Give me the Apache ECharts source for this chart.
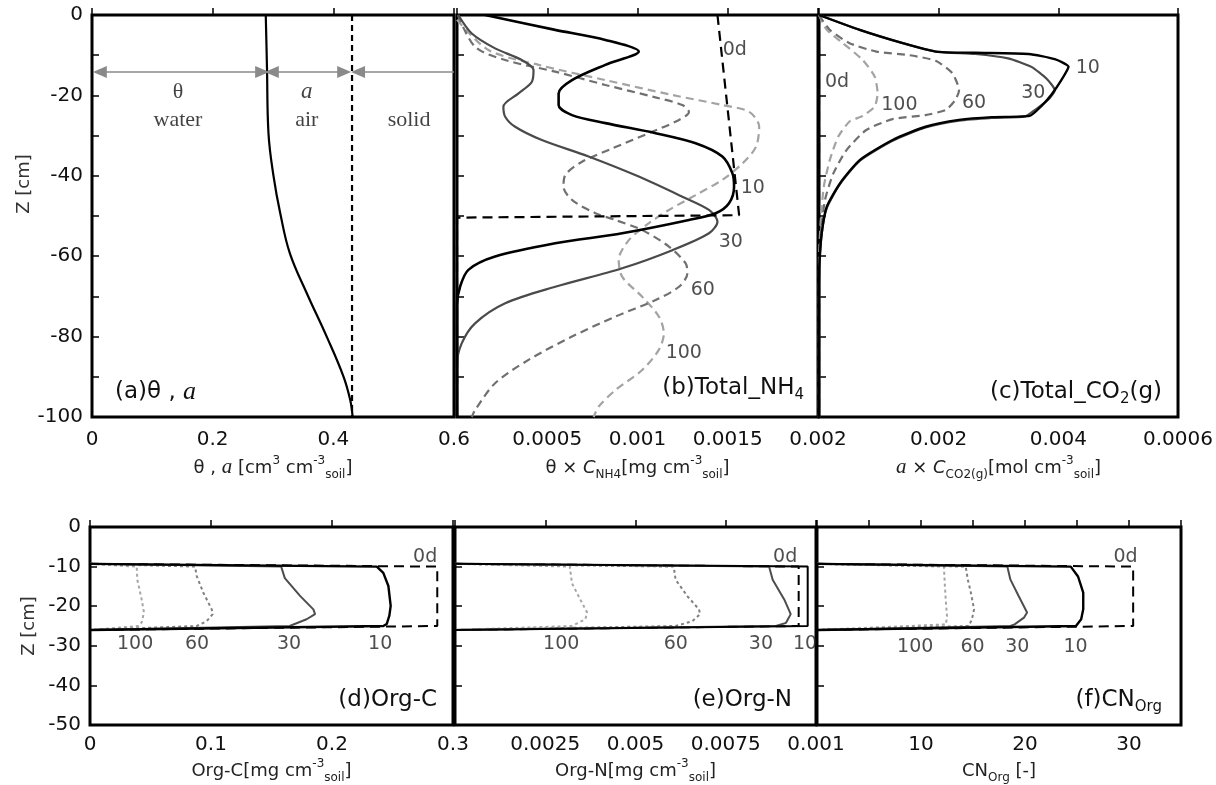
<!DOCTYPE html>
<html>
<head>
<meta charset="utf-8">
<script src="https://cdn.jsdelivr.net/npm/echarts@6/dist/echarts.min.js"></script>
<style>html,body{margin:0;padding:0;background:#fff}#c{width:1216px;height:785px}</style>
</head>
<body>
<div id="c"></div>
<script>
// ---------------- DATA ----------------
// (a) water content theta and porosity (depth z in cm)
const aDepth = [0, -12.9, -29.4, -40.2, -49.3, -59.3, -69.2, -80, -90, -95.8, -100];
const aTheta = [0.288, 0.290, 0.2925, 0.301, 0.312, 0.328, 0.356, 0.389, 0.417, 0.428, 0.432];
const aPorosityDepth = [0, -100];
const aPorosity = [0.431, 0.431];

// (b) Total NH4 [x, z]
const bDay0 = [[0.001443, 0], [0.001563, -49.8], [0, -50.4], [0, -100]];
const bDay10 = [[0.000156,0],[0.000544,-3.7],[0.000822,-6.2],[0.001007,-9.1],[0.000822,-12.4],[0.000637,-16.2],[0.000563,-19.5],[0.000563,-22.4],[0.000637,-24.9],[0.000822,-26.9],[0.0011,-29.4],[0.001322,-31.9],[0.00147,-35.2],[0.001526,-39.4],[0.001535,-42.7],[0.001507,-46.8],[0.001433,-49.3],[0.001285,-51],[0.000915,-54.3],[0.000544,-56.8],[0.000211,-60.1],[0.000063,-63.4],[0.000017,-67.6],[0,-72],[0,-100]];
const bDay30 = [[0.000007,0],[0.000082,-4.6],[0.000211,-8.3],[0.000359,-11.2],[0.000424,-13.7],[0.000415,-16.6],[0.000341,-19.5],[0.000257,-22.8],[0.000267,-25.3],[0.000322,-27.8],[0.00047,-31.1],[0.000729,-35.2],[0.001007,-40.2],[0.001248,-45.2],[0.001396,-48.5],[0.001443,-51.4],[0.001396,-54.3],[0.001193,-58.5],[0.000915,-63],[0.000544,-67.6],[0.000267,-71.7],[0.0001,-76.7],[0.000026,-81.7],[0,-87],[0,-100]];
const bDay60 = [[0.000005,0],[0.0001,-7.9],[0.000267,-11.2],[0.000544,-14.1],[0.000822,-17.4],[0.0011,-20.5],[0.001248,-22.4],[0.001285,-24.1],[0.00123,-26.1],[0.001063,-29.4],[0.00086,-33.2],[0.000693,-36.5],[0.0006,-39.8],[0.00059,-42.7],[0.000637,-46],[0.000767,-49.3],[0.000878,-51],[0.001026,-53.5],[0.001174,-57.6],[0.001267,-61.8],[0.001276,-64.3],[0.00123,-67.6],[0.0011,-70.9],[0.000878,-75],[0.000637,-80],[0.000396,-85.8],[0.000211,-91.6],[0.0001,-98.3],[0.000082,-100]];
const bDay100 = [[0,-1.2],[0.000174,-8.7],[0.000452,-12.4],[0.000822,-16.2],[0.001193,-19.9],[0.00147,-22.4],[0.001619,-24.1],[0.001674,-27.8],[0.001656,-32.8],[0.001582,-36.9],[0.00147,-41],[0.001322,-44.8],[0.001174,-48.5],[0.001063,-51.8],[0.000952,-56],[0.000896,-60.9],[0.000915,-65.1],[0.001026,-70.1],[0.001118,-75],[0.001146,-79.2],[0.001118,-83.3],[0.001026,-88.3],[0.000878,-93.3],[0.000785,-97.4],[0.000757,-100]];

// (c) Total CO2(g) [x, z]
const cDay0 = [[0, 0], [0, -100]];
const cDay10 = [[0,0],[0.00068,-3.7],[0.0014,-7],[0.00195,-9.1],[0.00261,-9.4],[0.0035,-9.7],[0.00394,-11],[0.00417,-12.9],[0.00405,-16.2],[0.00388,-19.9],[0.00372,-22.6],[0.00352,-25.1],[0.00289,-25.4],[0.00234,-26.1],[0.00178,-27.8],[0.00123,-31.1],[0.00068,-36.1],[0.00035,-41.9],[0.00013,-47.7],[0.000045,-54.3],[0.000005,-62.6],[0,-70],[0,-100]];
const cDay30 = [[0,0],[0.00068,-3.7],[0.0014,-7],[0.00195,-9.1],[0.00261,-9.7],[0.00316,-10.8],[0.00355,-12.9],[0.0038,-15.8],[0.00394,-18.7],[0.00383,-21.1],[0.00361,-23.6],[0.00345,-25.2],[0.00289,-25.6],[0.00234,-26.3],[0.00178,-28],[0.00123,-31.3],[0.00068,-36.3],[0.00035,-42.1],[0.00013,-48],[0.000045,-54.5],[0.000005,-63],[0,-70],[0,-100]];
const cDay60 = [[0,0],[0.00018,-3.7],[0.00051,-7],[0.00096,-9.1],[0.00151,-10],[0.00195,-11.4],[0.00223,-14.5],[0.00234,-18.7],[0.00228,-21.1],[0.00212,-23.6],[0.00178,-24.9],[0.00123,-25.9],[0.00079,-28.6],[0.00046,-33.6],[0.00024,-39.4],[0.0001,-46],[0.000033,-54.3],[0.000005,-62.6],[0,-70],[0,-100]];
const cDay100 = [[0,0],[0.00013,-3.7],[0.0004,-7],[0.00073,-11.2],[0.00093,-15.3],[0.00098,-19.5],[0.00093,-22.8],[0.00073,-25.1],[0.00051,-26.5],[0.00032,-30.3],[0.00018,-36.1],[0.00008,-42.7],[0.00003,-51],[0,-61],[0,-100]];

// (d) Org-C [x, z]
const dDay0 = [[0,-9.3],[0.287,-10],[0.287,-25],[0,-26]];
const dDay10 = [[0,-9.3],[0.237,-10],[0.2424,-11.6],[0.2466,-14.9],[0.2485,-19.9],[0.2474,-22.4],[0.2452,-24.5],[0.2424,-25],[0,-26]];
const dDay30 = [[0,-9.3],[0.158,-10],[0.161,-12.9],[0.1736,-17.4],[0.1846,-20.8],[0.186,-22],[0.179,-23.3],[0.165,-25],[0,-26]];
const dDay60 = [[0,-9.3],[0.0868,-10],[0.0882,-12.4],[0.0937,-16.6],[0.1006,-20.8],[0.1014,-22],[0.0964,-23.8],[0.0882,-25],[0,-26]];
const dDay100 = [[0,-9.3],[0.0386,-10],[0.0391,-13.3],[0.0427,-18.3],[0.0446,-21.6],[0.0427,-24.1],[0.04,-25],[0,-26]];

// (e) Org-N [x, z]
const eDay0 = [[0,-9.3],[0.00952,-10],[0.00952,-25],[0,-26]];
const eDay10 = [[0,-9.3],[0.00977,-10],[0.00977,-25],[0,-26]];
const eDay30 = [[0,-9.3],[0.0087,-10],[0.0088,-13.3],[0.00912,-18.3],[0.0093,-22],[0.00917,-24.2],[0.00889,-25],[0,-26]];
const eDay60 = [[0,-9.3],[0.00606,-10],[0.00611,-13.3],[0.00644,-17.5],[0.00676,-20.8],[0.00679,-22],[0.00657,-23.8],[0.00611,-25],[0,-26]];
const eDay100 = [[0,-9.3],[0.00318,-10],[0.00324,-14.2],[0.00347,-18.3],[0.00366,-21.6],[0.00361,-23.3],[0.00324,-25],[0,-26]];

// (f) CN_Org [x, z]
const fDay0 = [[0,-9.3],[30.4,-10],[30.4,-25],[0,-26]];
const fDay10 = [[0,-9.3],[24.4,-10],[25.1,-12.5],[25.6,-16.6],[25.6,-20.8],[25.4,-23.3],[24.9,-25],[0,-26]];
const fDay30 = [[0,-9.3],[18.3,-10],[18.6,-13.3],[19.4,-17.5],[20.2,-21.6],[19.9,-22.9],[19,-24.6],[18.6,-25],[0,-26]];
const fDay60 = [[0,-9.3],[14.3,-10],[14.5,-13.3],[14.8,-16.6],[15.1,-20.8],[14.9,-23.3],[14.6,-25],[0,-26]];
const fDay100 = [[0,-9.3],[12.2,-10],[12.3,-15],[12.4,-19.2],[12.5,-22.5],[12.4,-24.6],[12.3,-25],[0,-26]];

// tick labels (as printed in the original figure)
const aXTicks = ['0', '0.2', '0.4', '0.6'];
const bXTicks = ['', '0.0005', '0.001', '0.0015', '0.002'];
const cXTicks = ['', '0.002', '0.004', '0.0006'];
const dXTicks = ['0', '0.1', '0.2', '0.3'];
const eXTicks = ['', '0.0025', '0.005', '0.0075', '0.001'];
const fXTicks = ['', '', '10', '', '20', '', '30', ''];
const dayNames = ['0d', '10', '30', '60', '100'];

// ---------------- CHART ----------------
const FONT = '"DejaVu Sans", Lato, sans-serif';
const SERIF = '"Liberation Serif", "DejaVu Serif", serif';
const chart = echarts.init(document.getElementById('c'), null, {renderer: 'canvas'});

const grids = [
  {left: 92, top: 15, width: 362, height: 402},
  {left: 457, top: 15, width: 361, height: 402},
  {left: 819, top: 15, width: 363, height: 402},
  {left: 90, top: 527, width: 363, height: 200},
  {left: 455, top: 527, width: 361, height: 200},
  {left: 817, top: 527, width: 364, height: 200}
].map(g => Object.assign({show: true, borderColor: '#000', borderWidth: 3, backgroundColor: 'transparent', containLabel: false}, g));

const nameRich = {
  n: {fontSize: 18, fontFamily: FONT, color: '#222', lineHeight: 26, verticalAlign: 'middle'},
  i: {fontSize: 21, fontFamily: SERIF, fontStyle: 'italic', color: '#222', lineHeight: 26, verticalAlign: 'middle'},
  ci: {fontSize: 18, fontFamily: FONT, fontStyle: 'italic', color: '#222', lineHeight: 26, verticalAlign: 'middle'},
  sup: {fontSize: 12, fontFamily: FONT, color: '#222', lineHeight: 12, verticalAlign: 'top'},
  sub: {fontSize: 12, fontFamily: FONT, color: '#222', lineHeight: 12, verticalAlign: 'bottom'}
};

function xAxis(gi, min, max, interval, ticks, name, gap, margin) {
  return {
    gridIndex: gi, type: 'value', min, max, interval,
    axisLine: {show: false},
    splitLine: {show: false},
    axisTick: {show: true, inside: true, length: 7, lineStyle: {color: '#000', width: 1.5}},
    axisLabel: {formatter: (v, i) => (ticks[i] !== undefined ? ticks[i] : ''), margin, color: '#111', fontSize: 20, fontFamily: FONT, showMinLabel: true, showMaxLabel: true},
    name, nameLocation: 'middle', nameGap: gap,
    nameTextStyle: {rich: nameRich, color: '#222'}
  };
}
function yAxis(gi, min, step, showLabels, name, gap, pad) {
  const ax = {
    gridIndex: gi, type: 'value', min, max: 0, interval: 10,
    axisLine: {show: false},
    splitLine: {show: false},
    axisTick: {show: true, inside: true, length: 7, lineStyle: {color: '#000', width: 1.5}},
    axisLabel: {show: showLabels, formatter: v => (v % step === 0 ? String(v) : ''), margin: 9, color: '#111', fontSize: 20, fontFamily: FONT, padding: [7, 0, 0, 0]}
  };
  if (name) {
    ax.name = name; ax.nameLocation = 'middle'; ax.nameGap = gap;
    ax.nameTextStyle = {fontSize: 18, fontFamily: FONT, color: '#333', padding: pad};
  }
  return ax;
}

const xAxes = [
  xAxis(0, 0, 0.6, 0.2, aXTicks, '{n|θ , }{i|a}{n| [cm}{sup|3}{n| cm}{sup|-3}{sub|soil}{n|]}', 31, 13),
  xAxis(1, 0, 0.002, 0.0005, bXTicks, '{n|θ × }{ci|C}{sub|NH4}{n|[mg cm}{sup|-3}{sub|soil}{n|]}', 31, 13),
  xAxis(2, 0, 0.006, 0.002, cXTicks, '{i|a}{n| × }{ci|C}{sub|CO2(g)}{n|[mol cm}{sup|-3}{sub|soil}{n|]}', 31, 13),
  xAxis(3, 0, 0.3, 0.1, dXTicks, '{n|Org-C[mg cm}{sup|-3}{sub|soil}{n|]}', 33, 10),
  xAxis(4, 0, 0.01, 0.0025, eXTicks, '{n|Org-N[mg cm}{sup|-3}{sub|soil}{n|]}', 33, 10),
  xAxis(5, 0, 35, 5, fXTicks, '{n|CN}{sub|Org}{n| [-]}', 33, 10)
];
const yAxes = [
  yAxis(0, -100, 20, true, 'Z [cm]', 57, [0, 0, 0, 64]),
  yAxis(1, -100, 20, false),
  yAxis(2, -100, 20, false),
  yAxis(3, -50, 10, true, 'Z [cm]', 52, [0, 0, 0, 0]),
  yAxis(4, -50, 10, false),
  yAxis(5, -50, 10, false)
];

function ln(gi, data, color, width, type, smooth, name) {
  return {
    type: 'line', name, xAxisIndex: gi, yAxisIndex: gi, data, symbol: 'none', silent: true,
    smooth: smooth || false, clip: true,
    lineStyle: {color, width, type: type || 'solid'}
  };
}
function lbl(gi, items, extra) {
  return Object.assign({
    type: 'scatter', xAxisIndex: gi, yAxisIndex: gi, symbolSize: 0, silent: true, z: 10,
    data: items.map(it => ({name: it[0], value: [it[1], it[2]]})),
    label: {show: true, formatter: '{b}', position: 'inside', align: 'left', verticalAlign: 'middle', fontSize: 19, fontFamily: FONT, color: '#222'}
  }, extra || {});
}

const DASH = [8, 5];
const DOT = [3, 3];
const LONG = [10, 6];

const series = [];
// (a)
series.push(Object.assign(ln(0, aDepth.map((z, i) => [aTheta[i], z]), '#000', 2.2, 'solid', 0.4, 'theta'), {
  markLine: {
    silent: true, symbol: ['triangle', 'triangle'], symbolSize: [12, 14], animation: false,
    label: {show: false},
    lineStyle: {color: '#8a8a8a', width: 1.5, type: 'solid'},
    data: [
      [{coord: [0.013, -14.2]}, {coord: [0.282, -14.2]}],
      [{coord: [0.298, -14.2]}, {coord: [0.418, -14.2]}],
      [{coord: [0.441, -14.2]}, {coord: [0.6, -14.2], symbol: 'none'}]
    ]
  }
}));
series.push(ln(0, aPorosityDepth.map((z, i) => [aPorosity[i], z]), '#000', 2.2, [6, 4], false, 'porosity'));
series.push(lbl(0, [['θ', 0.1425, -19.2], ['water', 0.1425, -26.1], ['air', 0.356, -26.1], ['solid', 0.5255, -26.1]],
  {label: {show: true, formatter: '{b}', position: 'inside', align: 'center', verticalAlign: 'middle', fontSize: 22, fontFamily: SERIF, color: '#111'}}));
series.push(lbl(0, [['a', 0.356, -19.2]],
  {label: {show: true, formatter: '{b}', position: 'inside', align: 'center', verticalAlign: 'middle', fontSize: 23, fontFamily: SERIF, fontStyle: 'italic', color: '#111'}}));

// (b)
series.push(ln(1, bDay100, '#a3a3a3', 2.2, DASH, 0.3, dayNames[4]));
series.push(ln(1, bDay60, '#707070', 2.2, DASH, 0.3, dayNames[3]));
series.push(ln(1, bDay30, '#4a4a4a', 2.2, 'solid', 0.3, dayNames[2]));
series.push(ln(1, bDay10, '#000', 2.6, 'solid', 0.3, dayNames[1]));
series.push(ln(1, bDay0, '#000', 2.2, LONG, false, dayNames[0]));
series.push(lbl(1, [['0d', 0.001472, -8.7], ['10', 0.001572, -43], ['30', 0.00145, -56.5], ['60', 0.001295, -68.4], ['100', 0.001156, -84.1]]));

// (c)
series.push(ln(2, cDay0, '#000', 2.2, LONG, false, dayNames[0]));
series.push(ln(2, cDay100, '#a3a3a3', 2.2, DASH, 0.2, dayNames[4]));
series.push(ln(2, cDay60, '#707070', 2.2, DASH, 0.2, dayNames[3]));
series.push(ln(2, cDay30, '#4a4a4a', 2.2, 'solid', 0.2, dayNames[2]));
series.push(ln(2, cDay10, '#000', 2.4, 'solid', 0.2, dayNames[1]));
series.push(lbl(2, [['0d', 0.0001, -16.7], ['100', 0.00104, -22.4], ['60', 0.00239, -21.9], ['30', 0.00338, -19.4], ['10', 0.00429, -13.2]]));

// (d)
series.push(ln(3, dDay0, '#000', 2, LONG, false, dayNames[0]));
series.push(ln(3, dDay100, '#a6a6a6', 2, DOT, false, dayNames[4]));
series.push(ln(3, dDay60, '#808080', 2, DOT, false, dayNames[3]));
series.push(ln(3, dDay30, '#4d4d4d', 2, 'solid', false, dayNames[2]));
series.push(ln(3, dDay10, '#000', 2.4, 'solid', false, dayNames[1]));
series.push(lbl(3, [['0d', 0.267, -7.5], ['100', 0.0223, -29.5], ['60', 0.0785, -29.5], ['30', 0.1545, -29.5], ['10', 0.2298, -29.5]]));

// (e)
series.push(ln(4, eDay0, '#000', 2, LONG, false, dayNames[0]));
series.push(ln(4, eDay100, '#a6a6a6', 2, DOT, false, dayNames[4]));
series.push(ln(4, eDay60, '#808080', 2, DOT, false, dayNames[3]));
series.push(ln(4, eDay30, '#4d4d4d', 2, 'solid', false, dayNames[2]));
series.push(ln(4, eDay10, '#000', 2, 'solid', false, dayNames[1]));
series.push(lbl(4, [['0d', 0.00881, -7.5], ['100', 0.00244, -29.5], ['60', 0.00578, -29.5], ['30', 0.00814, -29.5], ['10', 0.00936, -29.5]]));

// (f)
series.push(ln(5, fDay0, '#000', 2, LONG, false, dayNames[0]));
series.push(ln(5, fDay100, '#a6a6a6', 2, DOT, false, dayNames[4]));
series.push(ln(5, fDay60, '#808080', 2, DOT, false, dayNames[3]));
series.push(ln(5, fDay30, '#4d4d4d', 2, 'solid', false, dayNames[2]));
series.push(ln(5, fDay10, '#000', 2.4, 'solid', false, dayNames[1]));
series.push(lbl(5, [['0d', 28.5, -7.5], ['100', 7.7, -30.3], ['60', 13.8, -30.3], ['30', 18.1, -30.3], ['10', 23.7, -30.3]]));

const titleRich = {
  n: {fontSize: 23, fontFamily: FONT, color: '#111', lineHeight: 30, verticalAlign: 'middle'},
  i: {fontSize: 26, fontFamily: SERIF, fontStyle: 'italic', color: '#111', lineHeight: 30, verticalAlign: 'middle'},
  s: {fontSize: 15, fontFamily: FONT, color: '#111', lineHeight: 14, verticalAlign: 'bottom'}
};
function ttl(text, x, y, align) {
  return {type: 'text', x, y, z: 100, silent: true, style: {text, rich: titleRich, align, verticalAlign: 'middle', fill: '#111'}};
}

chart.setOption({
  animation: false,
  backgroundColor: '#fff',
  grid: grids,
  xAxis: xAxes,
  yAxis: yAxes,
  series,
  graphic: [
    ttl('{n|(a)θ , }{i|a}', 115, 392, 'left'),
    ttl('{n|(b)Total_NH}{s|4}', 804, 388, 'right'),
    ttl('{n|(c)Total_CO}{s|2}{n|(g)}', 1162, 392, 'right'),
    ttl('{n|(d)Org-C}', 437, 700, 'right'),
    ttl('{n|(e)Org-N}', 792, 700, 'right'),
    ttl('{n|(f)CN}{s|Org}', 1162, 700, 'right')
  ]
});
</script>
</body>
</html>
